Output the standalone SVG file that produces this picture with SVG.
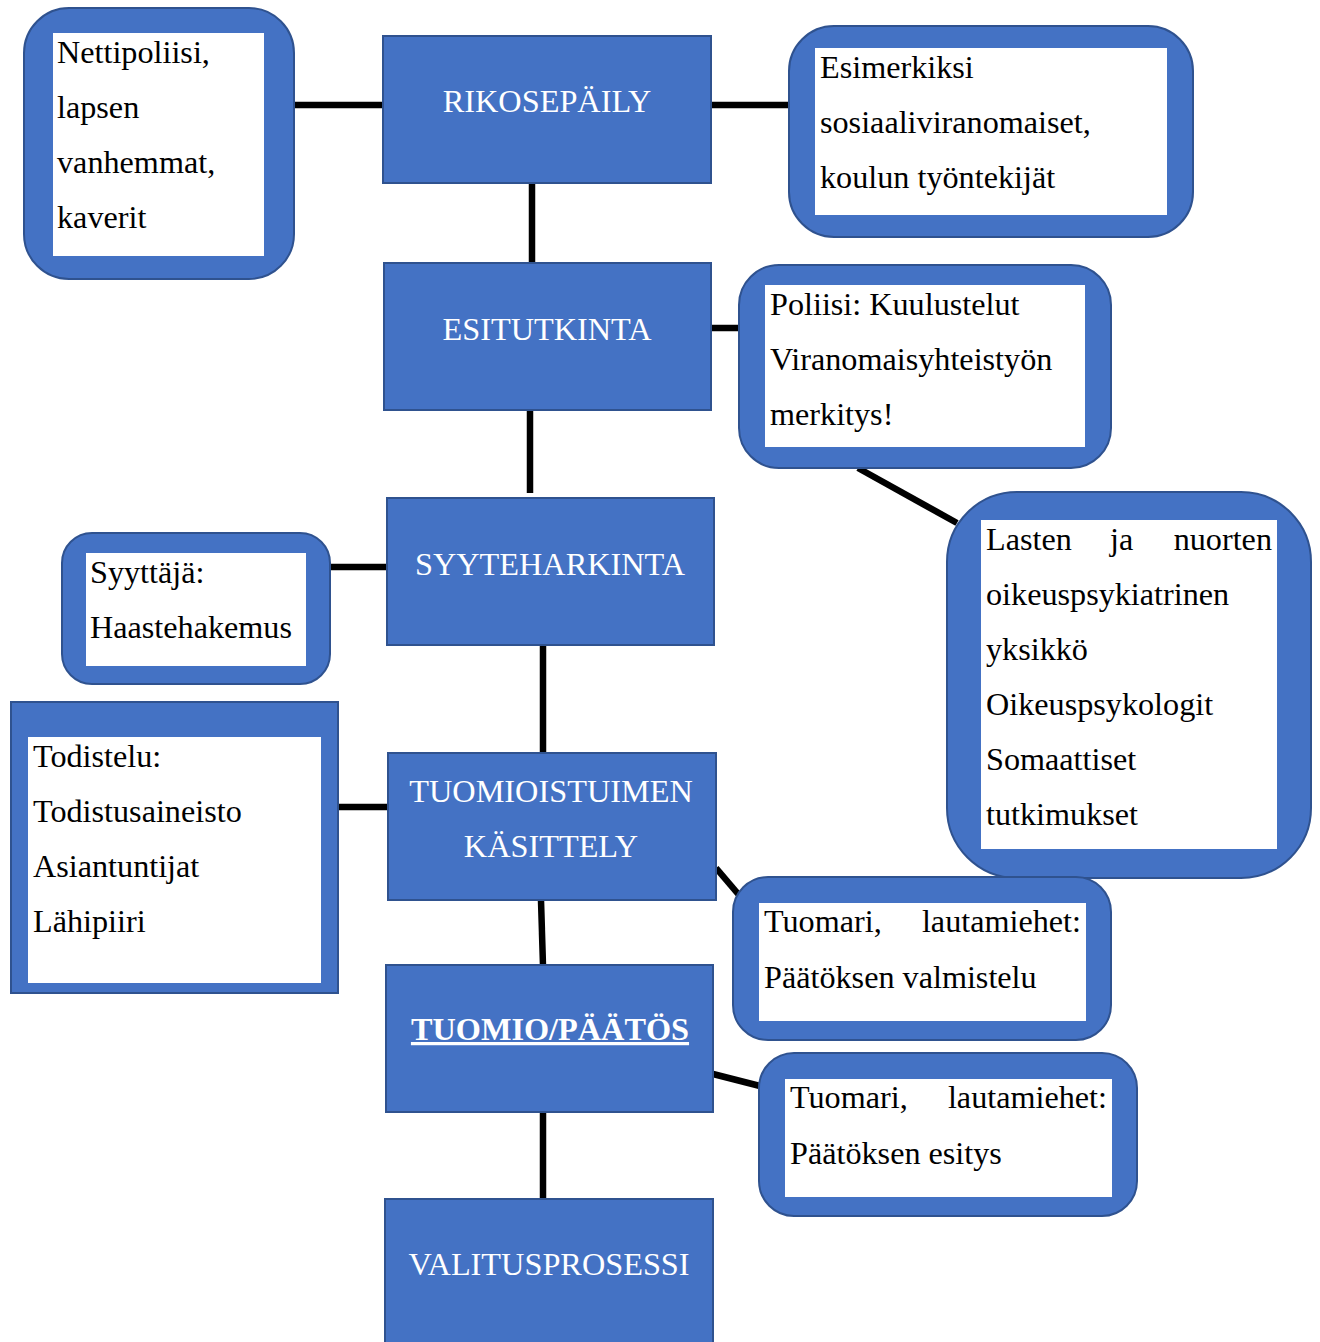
<svg xmlns="http://www.w3.org/2000/svg" width="1320" height="1342" viewBox="0 0 1320 1342">
<style>
.main{fill:#4472C4;stroke:#2F528F;stroke-width:2}
.side{fill:#4472C4;stroke:#2F528F;stroke-width:2}
.inner{fill:#FFFFFF}
.mt{font-family:"Liberation Serif","Times New Roman",serif;font-size:32.3px;fill:#FFFFFF;text-anchor:middle}
.st{font-family:"Liberation Serif","Times New Roman",serif;font-size:32.2px;fill:#000000}
.conn line{stroke:#000000;stroke-width:6.5}
</style>
<rect width="1320" height="1342" fill="#FFFFFF"/>
<g class="conn" id="connectors">
<line x1="294" y1="105" x2="384" y2="105"/>
<line x1="710" y1="105" x2="790" y2="105"/>
<line x1="532" y1="183" x2="532" y2="264"/>
<line x1="710" y1="328" x2="740" y2="328"/>
<line x1="530" y1="410" x2="530" y2="493"/>
<line x1="858" y1="468" x2="957" y2="523"/>
<line x1="331" y1="567" x2="388" y2="567"/>
<line x1="543" y1="645" x2="543" y2="754"/>
<line x1="338" y1="807" x2="388" y2="807"/>
<line x1="541" y1="900" x2="543" y2="966"/>
<line x1="716" y1="868" x2="739" y2="895"/>
<line x1="713" y1="1074" x2="760" y2="1086"/>
<line x1="543" y1="1112" x2="543" y2="1200"/>
</g>
<g id="n-rikosepaily">
<rect class="main" x="383" y="36" width="328" height="147"/>
<text class="mt" x="547" y="112">RIKOSEPÄILY</text>
</g>
<g id="n-esitutkinta">
<rect class="main" x="384" y="263" width="327" height="147"/>
<text class="mt" x="547" y="340">ESITUTKINTA</text>
</g>
<g id="n-syyteharkinta">
<rect class="main" x="387" y="498" width="327" height="147"/>
<text class="mt" x="550" y="575">SYYTEHARKINTA</text>
</g>
<g id="n-kasittely">
<rect class="main" x="388" y="753" width="328" height="147"/>
<text class="mt" x="551" y="802">TUOMIOISTUIMEN</text>
<text class="mt" x="551" y="857">KÄSITTELY</text>
</g>
<g id="n-tuomio">
<rect class="main" x="386" y="965" width="327" height="147"/>
<text class="mt" x="550" y="1040" font-weight="bold" text-decoration="underline">TUOMIO/PÄÄTÖS</text>
</g>
<g id="n-valitus">
<rect class="main" x="385" y="1199" width="328" height="160"/>
<text class="mt" x="549" y="1275">VALITUSPROSESSI</text>
</g>
<g id="n-nettipoliisi">
<rect class="side" x="24" y="8" width="270" height="271" rx="45"/>
<rect class="inner" x="53" y="33" width="211" height="223"/>
<text class="st" x="57" y="63">Nettipoliisi,</text>
<text class="st" x="57" y="118">lapsen</text>
<text class="st" x="57" y="173">vanhemmat,</text>
<text class="st" x="57" y="228">kaverit</text>
</g>
<g id="n-esimerkiksi">
<rect class="side" x="789" y="26" width="404" height="211" rx="45"/>
<rect class="inner" x="815" y="48" width="352" height="167"/>
<text class="st" x="820" y="78">Esimerkiksi</text>
<text class="st" x="820" y="133">sosiaaliviranomaiset,</text>
<text class="st" x="820" y="188">koulun työntekijät</text>
</g>
<g id="n-poliisi">
<rect class="side" x="739" y="265" width="372" height="203" rx="40"/>
<rect class="inner" x="765" y="285" width="320" height="162"/>
<text class="st" x="770" y="315">Poliisi: Kuulustelut</text>
<text class="st" x="770" y="370">Viranomaisyhteistyön</text>
<text class="st" x="770" y="425">merkitys!</text>
</g>
<g id="n-lasten">
<rect class="side" x="947" y="492" width="364" height="386" rx="70"/>
<rect class="inner" x="981" y="520" width="296" height="329"/>
<text class="st" x="986" y="550">Lasten</text>
<text class="st" x="1110" y="550">ja</text>
<text class="st" x="1272" y="550" text-anchor="end">nuorten</text>
<text class="st" x="986" y="605">oikeuspsykiatrinen</text>
<text class="st" x="986" y="660">yksikkö</text>
<text class="st" x="986" y="715">Oikeuspsykologit</text>
<text class="st" x="986" y="770">Somaattiset</text>
<text class="st" x="986" y="825">tutkimukset</text>
</g>
<g id="n-syyttaja">
<rect class="side" x="62" y="533" width="268" height="151" rx="30"/>
<rect class="inner" x="86" y="553" width="220" height="113"/>
<text class="st" x="90" y="583">Syyttäjä:</text>
<text class="st" x="90" y="638">Haastehakemus</text>
</g>
<g id="n-todistelu">
<rect class="side" x="11" y="702" width="327" height="291"/>
<rect class="inner" x="28" y="737" width="293" height="246"/>
<text class="st" x="33" y="767">Todistelu:</text>
<text class="st" x="33" y="822">Todistusaineisto</text>
<text class="st" x="33" y="877">Asiantuntijat</text>
<text class="st" x="33" y="932">Lähipiiri</text>
</g>
<g id="n-valmistelu">
<rect class="side" x="733" y="877" width="378" height="163" rx="35"/>
<rect class="inner" x="759" y="903" width="327" height="118"/>
<text class="st" x="764" y="932">Tuomari,</text>
<text class="st" x="1081" y="932" text-anchor="end">lautamiehet:</text>
<text class="st" x="764" y="988">Päätöksen valmistelu</text>
</g>
<g id="n-esitys">
<rect class="side" x="759" y="1053" width="378" height="163" rx="35"/>
<rect class="inner" x="785" y="1079" width="327" height="118"/>
<text class="st" x="790" y="1108">Tuomari,</text>
<text class="st" x="1107" y="1108" text-anchor="end">lautamiehet:</text>
<text class="st" x="790" y="1164">Päätöksen esitys</text>
</g>
</svg>
